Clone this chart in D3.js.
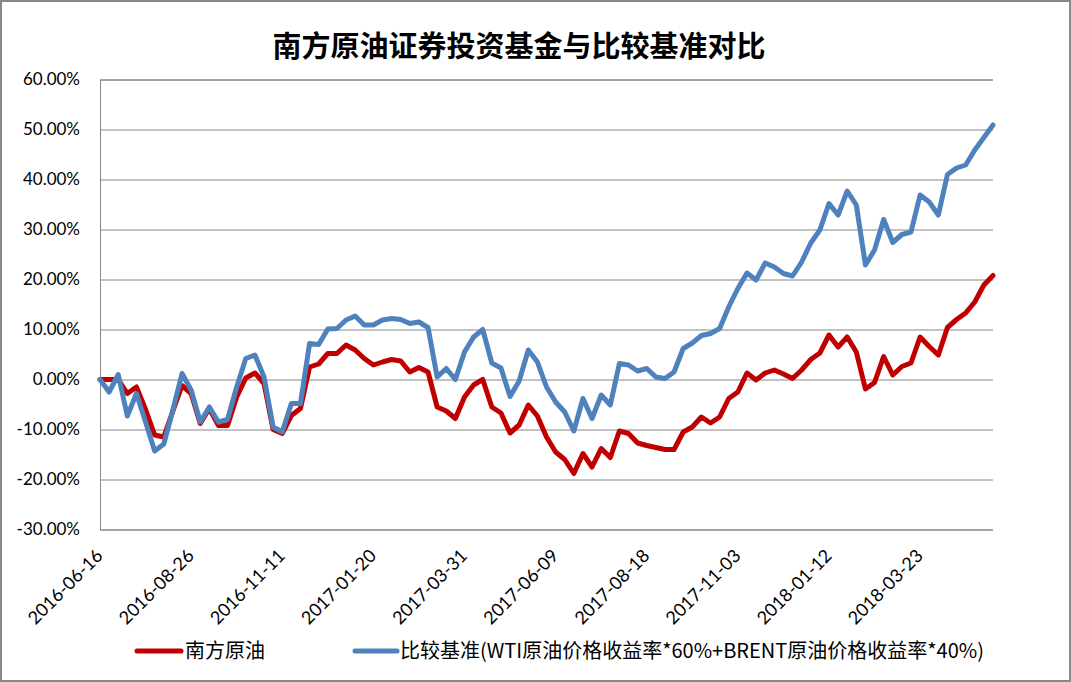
<!DOCTYPE html>
<html><head><meta charset="utf-8">
<script src="https://cdn.jsdelivr.net/npm/d3@7/dist/d3.min.js"></script>
<style>
html,body{margin:0;padding:0;background:#fff;}
svg{display:block;}
</style></head>
<body>
<svg id="chart" width="1071" height="682"></svg>
<script>
const title = "南方原油证券投资基金与比较基准对比";
const seriesNames = ["南方原油", "比较基准(WTI原油价格收益率*60%+BRENT原油价格收益率*40%)"];
const tickLabels = ["2016-06-16","2016-08-26","2016-11-11","2017-01-20","2017-03-31","2017-06-09","2017-08-18","2017-11-03","2018-01-12","2018-03-23"];
const tickEvery = 10;
const yTicks = [-30,-20,-10,0,10,20,30,40,50,60];

// 南方原油 (%)
const fundValues = [0,0,0,-2.8,-1.5,-6,-11.1,-11.5,-6.3,-1.2,
  -2.8,-8.8,-5.8,-9.2,-9.2,-3.5,0.3,1.3,-0.8,-10,
  -10.8,-7.2,-5.8,2.5,3.1,5.2,5.2,6.9,5.9,4.2,
  2.9,3.5,4.0,3.7,1.5,2.4,1.5,-5.5,-6.3,-7.8,
  -3.5,-1.1,0.0,-5.5,-6.7,-10.7,-9.1,-5.1,-7.3,-11.5,
  -14.5,-16.0,-18.8,-14.8,-17.5,-13.8,-15.6,-10.3,-10.8,-12.7,
  -13.2,-13.6,-14.0,-14.0,-10.5,-9.5,-7.5,-8.7,-7.5,-3.8,
  -2.5,1.3,-0.1,1.3,1.9,1.1,0.2,1.9,4.0,5.3,
  8.9,6.5,8.5,5.5,-1.9,-0.6,4.6,0.9,2.6,3.3,
  8.5,6.6,4.9,10.4,12.0,13.3,15.5,18.9,20.8];

// 比较基准 (%)
const benchValues = [0,-2.5,1.0,-7.3,-2.8,-8.5,-14.3,-12.9,-6.1,1.2,
  -2.1,-8.5,-5.5,-8.5,-8.0,-1.5,4.2,4.9,0.5,-9.5,
  -10.5,-4.8,-4.8,7.2,7.0,10.1,10.2,11.9,12.7,10.9,
  10.9,11.9,12.2,12.0,11.2,11.5,10.4,0.5,2.2,0.0,
  5.5,8.5,10.0,3.3,2.3,-3.4,-0.3,5.9,3.5,-1.5,
  -4.5,-6.5,-10.3,-3.8,-7.8,-3.1,-5.1,3.2,2.9,1.7,
  2.2,0.5,0.2,1.5,6.2,7.3,8.8,9.2,10.2,14.5,
  18.2,21.3,19.9,23.3,22.5,21.2,20.7,23.5,27.3,29.9,
  35.2,32.9,37.7,34.9,22.9,25.9,32.0,27.4,29.0,29.5,
  36.9,35.5,32.9,41.0,42.3,42.9,45.9,48.4,50.9];

const colors = ["#C00000", "#4F81BD"];

const svg = d3.select("#chart");
const W = 1071, H = 682;
const plot = {left: 100, right: 993, top: 79.5, bottom: 529.5};
const latin = "Lato, 'Noto Sans', sans-serif";
const cjk = "'Noto Sans CJK SC', sans-serif";

// outer border
svg.append("rect").attr("x",1).attr("y",1).attr("width",W-2).attr("height",H-2)
  .attr("fill","#fff").attr("stroke","#888").attr("stroke-width",2);

const n = fundValues.length;
const x = d3.scaleLinear().domain([0, n-1]).range([plot.left, plot.right]);
const y = d3.scaleLinear().domain([-30, 60]).range([plot.bottom, plot.top]);

// gridlines
const yAxis = d3.axisLeft(y).tickValues(yTicks).tickSize(-(plot.right-plot.left))
  .tickFormat(d => d.toFixed(2) + "%").tickPadding(20);
const gy = svg.append("g").attr("transform", `translate(${plot.left},0)`).call(yAxis);
gy.select(".domain").attr("stroke","#868686");
gy.selectAll(".tick line").attr("stroke","#868686").attr("stroke-width",1);
gy.selectAll(".tick text").attr("font-family", latin).attr("font-size", 17).attr("fill","#000");

// x labels
const xAxis = d3.axisBottom(x).tickValues(d3.range(0, n, tickEvery))
  .tickFormat((d,i) => tickLabels[i]).tickSize(0);
const gx = svg.append("g").attr("transform", `translate(0,${plot.bottom})`).call(xAxis);
gx.select(".domain").remove();
gx.selectAll(".tick text")
  .attr("font-family", latin).attr("font-size", 18).attr("fill","#000")
  .attr("text-anchor","end")
  .attr("transform","translate(-1,23) rotate(-45)")
  .attr("dy","0.35em").attr("y",0).attr("x",0);

// lines
const line = d3.line().x((d,i) => x(i)).y(d => y(d));
[fundValues, benchValues].forEach((vals, k) => {
  svg.append("path").datum(vals).attr("d", line)
    .attr("fill","none").attr("stroke", colors[k]).attr("stroke-width", 5)
    .attr("stroke-linejoin","round").attr("stroke-linecap","round");
});

// title
svg.append("text").attr("x", 519).attr("y", 57).attr("text-anchor","middle")
  .attr("font-family", cjk).attr("font-size", 29).attr("font-weight","bold")
  .attr("fill","#000").text(title);

// legend
const legend = [{x1:137, x2:181, tx:185}, {x1:355, x2:397, tx:400}];
legend.forEach((L,k) => {
  svg.append("line").attr("x1",L.x1).attr("x2",L.x2).attr("y1",651).attr("y2",651)
    .attr("stroke",colors[k]).attr("stroke-width",5).attr("stroke-linecap","round");
  svg.append("text").attr("x",L.tx).attr("y",651).attr("dy","0.35em")
    .attr("font-family", cjk).attr("font-size",20).attr("fill","#000").text(seriesNames[k]);
});
</script>
</body></html>
